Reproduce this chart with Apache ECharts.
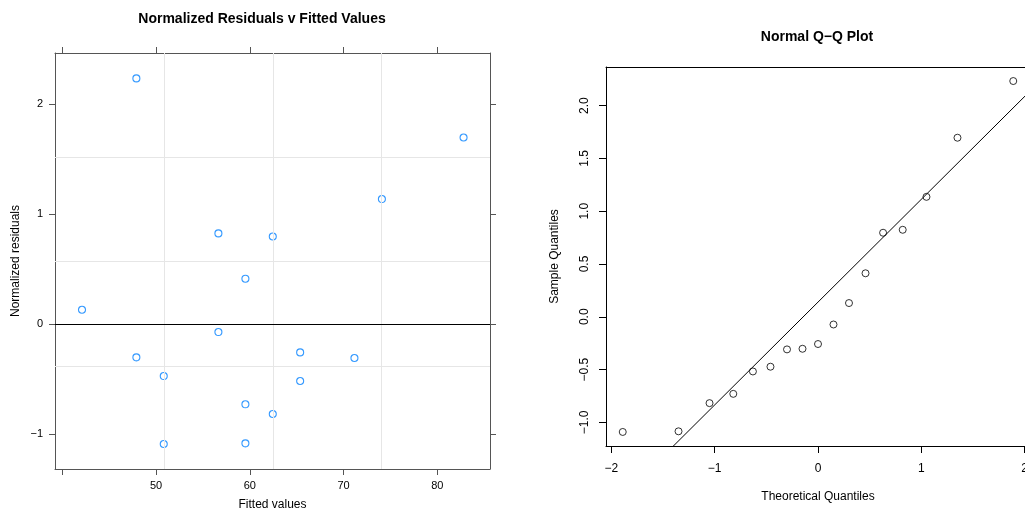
<!DOCTYPE html>
<html>
<head>
<meta charset="utf-8">
<script src="https://cdn.jsdelivr.net/npm/echarts@6/dist/echarts.min.js"></script>
<style>
  html, body { margin: 0; padding: 0; background: #fff; }
  #chart { width: 1025px; height: 512px; }
</style>
</head>
<body>
<div id="chart"></div>
<script>
// Residual diagnostics: residuals v fitted (left) + normal Q-Q (right)

// ----- Data -----
const fittedValues = [47.90, 56.65, 59.53, 42.10, 56.65, 47.90, 50.82, 59.53, 50.82,
                      59.53, 82.80, 74.09, 62.45, 65.37, 71.16, 65.37, 62.45];
const normResiduals = [2.233, 0.824, 0.412, 0.130, -0.073, -0.303, -0.473, -0.730, -1.091,
                       -1.085, 1.696, 1.136, 0.796, -0.258, -0.309, -0.518, -0.818];

const theoQuantiles = [-1.89, -1.35, -1.05, -0.82, -0.63, -0.46, -0.30, -0.15, 0,
                       0.15, 0.30, 0.46, 0.63, 0.82, 1.05, 1.35, 1.89];
const sampleQuantiles = [-1.091, -1.085, -0.818, -0.730, -0.518, -0.473, -0.309, -0.303, -0.258,
                         -0.073, 0.130, 0.412, 0.796, 0.824, 1.136, 1.696, 2.233];

// qq line end points (clipped by the plot box)
const qqLine = [[-2.1, -1.906], [2.1, 2.184]];

// left panel light reference lines
const refX = [50.85, 62.45, 74.05];
const refY = [-0.375, 0.575, 1.518];

// tick values
const leftXTicks = [40, 50, 60, 70, 80];
const leftXLabels = [50, 60, 70, 80];
const leftYTicks = [-1, 0, 1, 2];
const qqXTicks = [-2, -1, 0, 1, 2];
const qqYTicks = [-1, -0.5, 0, 0.5, 1, 1.5, 2];

const FONT = '"Liberation Sans", Arial, Helvetica, sans-serif';
const minus = s => String(s).replace('-', '\u2212');

const chart = echarts.init(document.getElementById('chart'));

const boxGray = '#555';

function tickOnlyAxis(base) {
  return Object.assign({
    type: 'value',
    axisLine: { show: true, onZero: false, lineStyle: { color: boxGray, width: 1 } },
    axisTick: { show: true, length: 6, lineStyle: { color: boxGray } },
    axisLabel: { show: false },
    splitLine: { show: false }
  }, base);
}

function plainLine(base) {
  return Object.assign({
    type: 'value',
    axisLine: { show: true, onZero: false, lineStyle: { color: '#000', width: 1 } },
    axisTick: { show: false }, axisLabel: { show: false }, splitLine: { show: false }
  }, base);
}

// right panel: the plot box runs a few px past the picture edge
const QQ_XMIN = -2.052, QQ_XMAX = 2.052;

chart.setOption({
  animation: false,
  backgroundColor: '#fff',
  textStyle: { fontFamily: FONT },
  graphic: [
    { type: 'text', style: { x: 262, y: 19, text: 'Normalized Residuals v Fitted Values',
      fontFamily: FONT, fontSize: 14, fontWeight: 'bold', fill: '#000', align: 'center', verticalAlign: 'middle' } },
    { type: 'text', style: { x: 817, y: 37, text: 'Normal Q\u2212Q Plot',
      fontFamily: FONT, fontSize: 14, fontWeight: 'bold', fill: '#000', align: 'center', verticalAlign: 'middle' } }
  ],
  grid: [
    { left: 55, top: 53, width: 435, height: 416, outerBoundsMode: 'none' },
    { left: 606, top: 67, width: 424, height: 379, outerBoundsMode: 'none' }
  ],
  xAxis: [
    tickOnlyAxis({
      gridIndex: 0, position: 'bottom', min: 39.22, max: 85.62,
      axisTick: { show: true, length: 6, customValues: leftXTicks, lineStyle: { color: boxGray } },
      axisLabel: { show: true, customValues: leftXLabels, color: '#000', fontSize: 11, margin: 11, fontFamily: FONT },
      name: 'Fitted values', nameLocation: 'middle', nameGap: 30,
      nameTextStyle: { fontSize: 12, color: '#000', fontFamily: FONT }
    }),
    tickOnlyAxis({
      gridIndex: 0, position: 'top', min: 39.22, max: 85.62,
      axisTick: { show: true, length: 6, customValues: leftXTicks, lineStyle: { color: boxGray } }
    }),
    plainLine({
      gridIndex: 1, position: 'bottom', min: QQ_XMIN, max: QQ_XMAX,
      axisTick: { show: true, length: 7, customValues: qqXTicks, lineStyle: { color: '#000' } },
      axisLabel: { show: true, customValues: qqXTicks, color: '#000', fontSize: 12, margin: 17,
        fontFamily: FONT, formatter: v => minus(v) },
      name: 'Theoretical Quantiles', nameLocation: 'middle', nameGap: 45,
      nameTextStyle: { fontSize: 12, color: '#000', fontFamily: FONT }
    }),
    plainLine({ gridIndex: 1, position: 'top', min: QQ_XMIN, max: QQ_XMAX })
  ],
  yAxis: [
    tickOnlyAxis({
      gridIndex: 0, position: 'left', min: -1.318, max: 2.464,
      axisTick: { show: true, length: 6, customValues: leftYTicks, lineStyle: { color: boxGray } },
      axisLabel: { show: true, customValues: leftYTicks, color: '#000', fontSize: 11, margin: 12,
        fontFamily: FONT, formatter: v => minus(v) },
      name: 'Normalized residuals', nameLocation: 'middle', nameGap: 33,
      nameTextStyle: { fontSize: 12, color: '#000', fontFamily: FONT }
    }),
    tickOnlyAxis({
      gridIndex: 0, position: 'right', min: -1.318, max: 2.464,
      axisTick: { show: true, length: 6, customValues: leftYTicks, lineStyle: { color: boxGray } }
    }),
    plainLine({
      gridIndex: 1, position: 'left', min: -1.224, max: 2.366,
      axisTick: { show: true, length: 7, customValues: qqYTicks, lineStyle: { color: '#000' } },
      axisLabel: { show: true, customValues: qqYTicks, rotate: 90, color: '#000', fontSize: 12, margin: 15,
        fontFamily: FONT, formatter: v => minus(Number(v).toFixed(1)) },
      name: 'Sample Quantiles', nameLocation: 'middle', nameGap: 45,
      nameTextStyle: { fontSize: 12, color: '#000', fontFamily: FONT }
    }),
    plainLine({ gridIndex: 1, position: 'right', min: -1.224, max: 2.366 })
  ],
  series: [
    {
      // light reference lines + zero line, kept behind the points
      name: 'refs', type: 'line', xAxisIndex: 0, yAxisIndex: 0, data: [], z: 1, silent: true,
      markLine: {
        silent: true, symbol: 'none', animation: false, label: { show: false },
        lineStyle: { color: '#e6e6e6', width: 1, type: 'solid' },
        data: refX.map(v => ({ xAxis: v }))
          .concat(refY.map(v => ({ yAxis: v })))
          .concat([{ yAxis: 0, lineStyle: { color: '#000', width: 1, type: 'solid' } }])
      }
    },
    {
      name: 'Residuals', type: 'scatter', xAxisIndex: 0, yAxisIndex: 0, z: 3,
      symbol: 'circle', symbolSize: 7,
      itemStyle: { color: 'rgba(255,255,255,0)', borderColor: '#0080ff', borderWidth: 1.1 },
      data: fittedValues.map((x, i) => [x, normResiduals[i]])
    },
    {
      name: 'QQ line', type: 'line', xAxisIndex: 2, yAxisIndex: 2, clip: true,
      showSymbol: false, symbol: 'none',
      lineStyle: { color: '#000', width: 1 },
      data: qqLine
    },
    {
      name: 'QQ points', type: 'scatter', xAxisIndex: 2, yAxisIndex: 2, z: 3,
      symbol: 'circle', symbolSize: 7,
      itemStyle: { color: 'rgba(255,255,255,0)', borderColor: '#000', borderWidth: 1 },
      data: theoQuantiles.map((x, i) => [x, sampleQuantiles[i]])
    }
  ]
});

window.addEventListener('resize', () => chart.resize());
</script>
</body>
</html>
